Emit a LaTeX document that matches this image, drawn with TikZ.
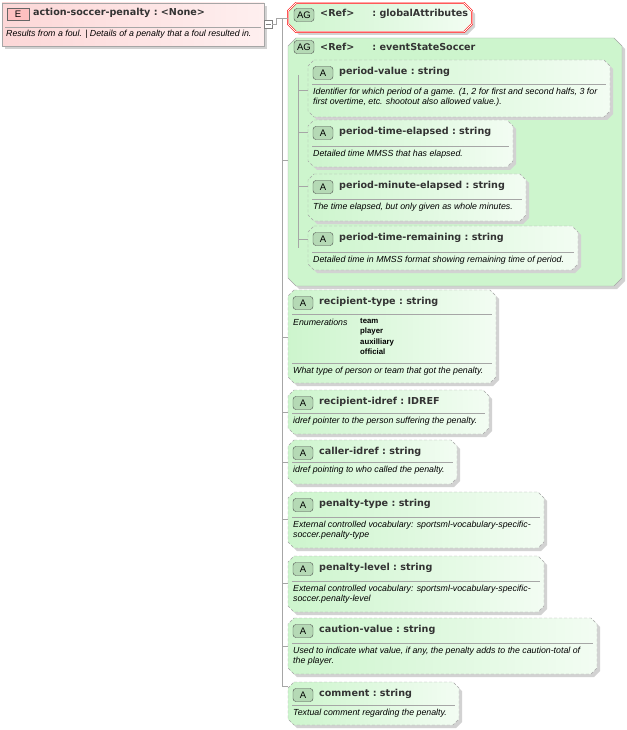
\documentclass[tikz,border=0pt]{standalone}
\usepackage{fontspec}
\setmainfont{Liberation Sans}
\newfontfamily\dvs{DejaVu Sans}
\definecolor{agreen}{RGB}{205,245,205}
\definecolor{bgreen}{RGB}{150,200,150}
\definecolor{epink}{RGB}{252,215,215}
\tikzset{
 shp/.style={fill=gray!35,draw=none},
 attrbdr/.style={draw=gray!70,dashed,dash pattern=on 3pt off 2pt,left color=agreen,right color=agreen!25},
 badge/.style={draw=black!70,rounded corners=3pt,fill=bgreen!70,minimum width=20pt,minimum height=13pt,inner sep=0pt,font=\fontsize{9.5}{10}\selectfont},
 ttl/.style={anchor=west,font=\dvs\fontsize{9.6}{11}\selectfont\bfseries,inner sep=0pt,text=black!80},
 dsc/.style={anchor=north west,font=\fontsize{8.8}{10}\selectfont\itshape,inner sep=0pt,align=left},
 sepl/.style={draw=gray!70},
 conn/.style={draw=gray!70},
}
\newcommand\cln{\ :\ }
\newcommand\octpath[5]{(#1+#5,#2)--(#3-#5,#2)--(#3,#2+#5)--(#3,#4-#5)--(#3-#5,#4)--(#1+#5,#4)--(#1,#4-#5)--(#1,#2+#5)--cycle}
% name x1 y1 x2 y2 sep title desc
\newcommand\attrbox[8]{%
 \fill[shp] \octpath{#2+3}{#3+3}{#4+3}{#5+3}{6};
 \path[attrbdr] \octpath{#2}{#3}{#4}{#5}{6};
 \node[badge] (#1b) at (#2+15,#3+13) {A};
 \node[ttl] (#1) at (#2+31,#3+12) {#7};
 \draw[sepl] (#2+4,#6)--(#4-4,#6);
 \node[dsc] (#1d) at (#2+5,#6+4) {#8};
}
\begin{document}
\begin{tikzpicture}[x=1pt,y=-1pt]
\useasboundingbox (0,0) rectangle (626,730);
% element
\fill[shp] (5,6) rectangle (267,49);
\path[draw=gray!70,left color=epink,right color=epink!40] (2,3) rectangle (264,46);
\node[badge,draw=black!60,rounded corners=0pt,fill=epink!70!red!60,minimum width=22pt,minimum height=12pt] (eb) at (18,14) {E};
\node[ttl] (el) at (33,13) {action-soccer-penalty\cln<None>};
\draw[sepl] (5,27)--(261,27);
\node[dsc] (eld) at (6,30) {Results from a foul. | Details of a penalty that a foul resulted in.};
\node[draw=gray,fill=white,minimum size=8pt,inner sep=0pt] (col) at (268,24) {};
\draw[gray] (265.5,24)--(270.5,24);
\coordinate (trunk) at (282,18);
\draw[conn] (col.east)--(276,24)--(276,18)--(trunk);
\draw[conn] (282,18)--(282,686);
% globalAttributes
\fill[shp] \octpath{291}{6}{475}{35}{8};
\path[draw=red,double=white,double distance=1pt,left color=agreen,right color=agreen!25] \octpath{288}{3}{472}{32}{8};
\node[badge] (ag1) at (304,15) {AG};
\node[ttl] (ga) at (320,14) {<Ref>\hspace{18pt}:\ globalAttributes};
\draw[conn] (282,18)--(288,18);
% eventStateSoccer
\fill[shp] \octpath{291}{41}{625}{289}{8};
\path[draw=gray!70,fill=agreen] \octpath{288}{38}{622}{286}{8};
\node[badge] (ag2) at (304,47) {AG};
\node[ttl] (es) at (320,47) {<Ref>\hspace{18pt}:\ eventStateSoccer};
\draw[conn] (282,160)--(288,160);
\draw[conn] (298,75)--(298,248);
\attrbox{pv}{308}{60}{610}{117}{84}{period-value\cln string}{Identifier for which period of a game. (1, 2 for first and second halfs, 3 for\\first overtime, etc. shootout also allowed value.).}
\attrbox{pte}{308}{120}{513}{167}{146}{period-time-elapsed\cln string}{Detailed time MMSS that has elapsed.}
\attrbox{pme}{308}{174}{526}{221}{199}{period-minute-elapsed\cln string}{The time elapsed, but only given as whole minutes.}
\attrbox{ptr}{308}{226}{578}{270}{252}{period-time-remaining\cln string}{Detailed time in MMSS format showing remaining time of period.}
\foreach \y in {90,132,186,239} \draw[conn] (298,\y)--(308,\y);
% attributes
\attrbox{rt}{288}{290}{496}{383}{363}{recipient-type\cln string}{What type of person or team that got the penalty.}
\draw[sepl] (292,314)--(492,314);
\node[dsc] (enl) at (293,319) {Enumerations};
\node[anchor=north west,inner sep=0pt,font=\fontsize{7.8}{10.5}\selectfont\bfseries,align=left] (env) at (360,318) {team\\player\\auxilliary\\official};
\attrbox{ri}{288}{390}{489}{434}{413}{recipient-idref\cln IDREF}{idref pointer to the person suffering the penalty.}
\attrbox{ci}{288}{440}{457}{484}{462}{caller-idref\cln string}{idref pointing to who called the penalty.}
\attrbox{pt}{288}{492}{544}{548}{517}{penalty-type\cln string}{External controlled vocabulary: sportsml-vocabulary-specific-\\soccer.penalty-type}
\attrbox{pl}{288}{556}{544}{612}{581}{penalty-level\cln string}{External controlled vocabulary: sportsml-vocabulary-specific-\\soccer.penalty-level}
\attrbox{cv}{288}{618}{597}{674}{643}{caution-value\cln string}{Used to indicate what value, if any, the penalty adds to the caution-total of\\the player.}
\attrbox{cm}{288}{682}{459}{725}{705}{comment\cln string}{Textual comment regarding the penalty.}
\foreach \y in {337,412,462,519,583,646,686} \draw[conn] (282,\y)--(288,\y);
\end{tikzpicture}
\end{document}
